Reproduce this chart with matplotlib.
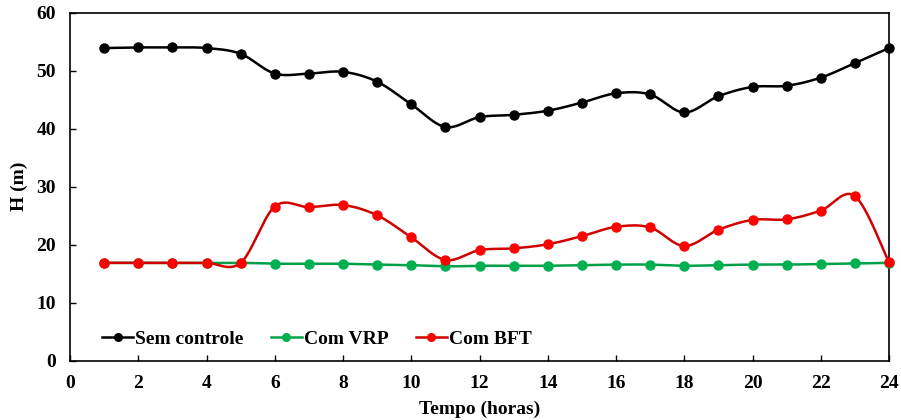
import numpy as np
import matplotlib
matplotlib.use("Agg")
import matplotlib.pyplot as plt
from matplotlib.lines import Line2D

plt.rcParams['font.family'] = ['Liberation Serif', 'DejaVu Serif']
plt.rcParams['font.weight'] = 'bold'

hours = list(range(1, 25))
sem_controle = [53.9, 54.0, 54.0, 53.9, 52.9, 49.5, 49.5, 49.8, 48.1, 44.2, 40.3, 42.0,
                42.4, 43.1, 44.5, 46.1, 45.9, 42.8, 45.6, 47.2, 47.4, 48.8, 51.3, 53.9]
com_vrp = [16.9, 16.9, 16.9, 16.9, 16.9, 16.75, 16.75, 16.75, 16.6, 16.5, 16.3, 16.4,
           16.4, 16.4, 16.5, 16.6, 16.6, 16.4, 16.5, 16.6, 16.6, 16.7, 16.8, 16.9]
com_bft = [16.9, 16.9, 16.9, 16.9, 16.9, 26.6, 26.5, 26.85, 25.1, 21.3, 17.4, 19.1,
           19.4, 20.1, 21.5, 23.1, 23.0, 19.8, 22.6, 24.3, 24.4, 25.9, 28.4, 17.0]

labels = ["Sem controle", "Com VRP", "Com BFT"]
series = [sem_controle, com_vrp, com_bft]
line_colors = ["#000000", "#00A04A", "#D00000"]
marker_colors = ["#000000", "#00B050", "#FF0000"]


def smooth(x, y, n=20):
    # Catmull-Rom style bezier, like excel's smoothed line
    x = np.asarray(x, float)
    y = np.asarray(y, float)
    px = np.concatenate([[x[0]], x, [x[-1]]])
    py = np.concatenate([[y[0]], y, [y[-1]]])
    xs, ys = [], []
    t = np.linspace(0, 1, n)
    for i in range(1, len(px) - 2):
        p0 = np.array([px[i], py[i]])
        p3 = np.array([px[i + 1], py[i + 1]])
        p1 = p0 + (np.array([px[i + 1], py[i + 1]]) - np.array([px[i - 1], py[i - 1]])) / 6
        p2 = p3 - (np.array([px[i + 2], py[i + 2]]) - np.array([px[i], py[i]])) / 6
        b = ((1 - t) ** 3)[:, None] * p0 + (3 * (1 - t) ** 2 * t)[:, None] * p1 \
            + (3 * (1 - t) * t ** 2)[:, None] * p2 + (t ** 3)[:, None] * p3
        xs.extend(b[:, 0])
        ys.extend(b[:, 1])
    return xs, ys


fig = plt.figure(figsize=(9.01, 4.2), dpi=100)
ax = fig.add_axes([0.0777, 0.1405, 0.909, 0.8295])

handles = []
for vals, lab, lc, mc in zip(series, labels, line_colors, marker_colors):
    sx, sy = smooth(hours, vals)
    ax.plot(sx, sy, color=lc, lw=1.8, zorder=2)
    ax.plot(hours, vals, 'o', color=mc, ms=6.5, zorder=3, clip_on=False)
    handles.append(Line2D([], [], color=lc, lw=1.8, marker='o', ms=5.5,
                          markerfacecolor=mc, markeredgecolor=mc))

ax.set_xlim(0, 24)
ax.set_ylim(0, 60)
ax.set_xticks(range(0, 25, 2))
ax.set_yticks(range(0, 61, 10))
ax.tick_params(direction='in', length=4, width=1, labelsize=14, pad=10)
for s in ax.spines.values():
    s.set_linewidth(1.2)
ax.set_xlabel("Tempo (horas)", fontsize=14, fontweight='bold', labelpad=6)
ax.set_ylabel("H (m)", fontsize=14, fontweight='bold', labelpad=6)

ax.legend(handles, labels, loc='lower left', bbox_to_anchor=(0.018, -0.012), ncol=3,
          frameon=False, fontsize=14, handlelength=1.6, handletextpad=0.1,
          columnspacing=1.4)

fig.savefig("out.png", dpi=100)
